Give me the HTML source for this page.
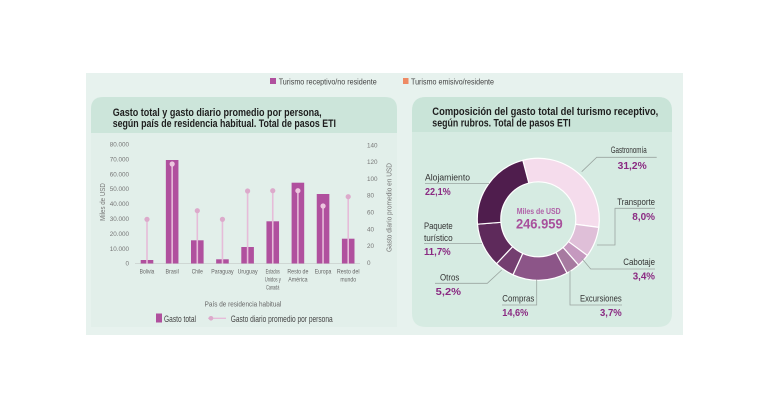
<!DOCTYPE html>
<html><head><meta charset="utf-8"><style>
html,body{margin:0;padding:0;background:#fff;}
svg{display:block;}
text{font-family:"Liberation Sans Narrow","Liberation Sans",sans-serif;}
</style></head><body>
<svg width="768" height="409" viewBox="0 0 768 409" xmlns="http://www.w3.org/2000/svg">
<rect x="0" y="0" width="768" height="409" fill="#fff"/>
<rect x="86" y="73" width="597" height="262" fill="#e7f2ee"/>
<!-- legend top -->
<rect x="270" y="78" width="6" height="6" fill="#b0509e"/>
<text x="278.7" y="84.5" font-size="8.5" fill="#444" textLength="98" lengthAdjust="spacingAndGlyphs">Turismo receptivo/no residente</text>
<rect x="403" y="78" width="5.5" height="6" fill="#ee8a64"/>
<text x="411" y="84.5" font-size="8.5" fill="#444" textLength="83" lengthAdjust="spacingAndGlyphs">Turismo emisivo/residente</text>

<!-- left card -->
<path d="M91,109 Q91,97 103,97 L385,97 Q397,97 397,109 L397,327 L91,327 Z" fill="#e2efea"/>
<path d="M91,109 Q91,97 103,97 L385,97 Q397,97 397,109 L397,133 L91,133 Z" fill="#cce5da"/>
<text x="112.7" y="115.8" font-size="11" font-weight="bold" fill="#1e1e1e" textLength="209" lengthAdjust="spacingAndGlyphs">Gasto total y gasto diario promedio por persona,</text>
<text x="112.7" y="126.8" font-size="11" font-weight="bold" fill="#1e1e1e" textLength="223.3" lengthAdjust="spacingAndGlyphs">según país de residencia habitual. Total de pasos ETI</text>

<!-- right card -->
<path d="M412,111 Q412,97 426,97 L658,97 Q672,97 672,111 L672,313 Q672,327 658,327 L426,327 Q412,327 412,313 Z" fill="#d6ebe2"/>
<path d="M412,111 Q412,97 426,97 L658,97 Q672,97 672,111 L672,132 L412,132 Z" fill="#c9e4d8"/>
<text x="432.3" y="115" font-size="11" font-weight="bold" fill="#1e1e1e" textLength="226" lengthAdjust="spacingAndGlyphs">Composición del gasto total del turismo receptivo,</text>
<text x="432.3" y="126.3" font-size="11" font-weight="bold" fill="#1e1e1e" textLength="138.4" lengthAdjust="spacingAndGlyphs">según rubros. Total de pasos ETI</text>

<!-- bar chart axes -->
<g font-size="6.3" fill="#777" text-anchor="end">
<text x="129" y="146.5">80.000</text>
<text x="129" y="161.4">70.000</text>
<text x="129" y="176.3">60.000</text>
<text x="129" y="191.2">50.000</text>
<text x="129" y="206.1">40.000</text>
<text x="129" y="221">30.000</text>
<text x="129" y="235.9">20.000</text>
<text x="129" y="250.8">10.000</text>
<text x="129" y="265.7">0</text>
</g>
<g font-size="6.3" fill="#777">
<text x="367" y="147.3">140</text>
<text x="367" y="164.1">120</text>
<text x="367" y="180.9">100</text>
<text x="367" y="197.7">80</text>
<text x="367" y="214.5">60</text>
<text x="367" y="231.3">40</text>
<text x="367" y="248.1">20</text>
<text x="367" y="264.9">0</text>
</g>
<text transform="translate(104.8,202) rotate(-90)" font-size="7" fill="#777" text-anchor="middle" textLength="37.7" lengthAdjust="spacingAndGlyphs">Miles de USD</text>
<text transform="translate(391.5,207.5) rotate(-90)" font-size="7" fill="#777" text-anchor="middle" textLength="89" lengthAdjust="spacingAndGlyphs">Gasto diario promedio en USD</text>
<line x1="135" y1="263.5" x2="360" y2="263.5" stroke="#c8cfcc" stroke-width="0.7"/>

<!-- bars -->
<g fill="#b0509e">
<rect x="140.7" y="260" width="12.6" height="3.5"/>
<rect x="165.85" y="160" width="12.6" height="103.5"/>
<rect x="191" y="240.3" width="12.6" height="23.2"/>
<rect x="216.15" y="259.3" width="12.6" height="4.2"/>
<rect x="241.3" y="247" width="12.6" height="16.5"/>
<rect x="266.45" y="221.3" width="12.6" height="42.2"/>
<rect x="291.6" y="182.7" width="12.6" height="80.8"/>
<rect x="316.75" y="194" width="12.6" height="69.5"/>
<rect x="341.9" y="238.7" width="12.6" height="24.8"/>
</g>
<!-- lollipops -->
<g stroke="#e6bcd9" stroke-width="1.6">
<line x1="147" y1="263.5" x2="147" y2="219.3"/>
<line x1="172.15" y1="263.5" x2="172.15" y2="164"/>
<line x1="197.3" y1="263.5" x2="197.3" y2="210.7"/>
<line x1="222.45" y1="263.5" x2="222.45" y2="219.3"/>
<line x1="247.6" y1="263.5" x2="247.6" y2="191"/>
<line x1="272.75" y1="263.5" x2="272.75" y2="190.7"/>
<line x1="297.9" y1="263.5" x2="297.9" y2="190.7"/>
<line x1="323.05" y1="263.5" x2="323.05" y2="206"/>
<line x1="348.2" y1="263.5" x2="348.2" y2="196.7"/>
</g>
<g fill="#dcaacb">
<circle cx="147" cy="219.3" r="2.6"/>
<circle cx="172.15" cy="164" r="2.6" fill="#edc6df"/>
<circle cx="197.3" cy="210.7" r="2.6"/>
<circle cx="222.45" cy="219.3" r="2.6"/>
<circle cx="247.6" cy="191" r="2.6"/>
<circle cx="272.75" cy="190.7" r="2.6"/>
<circle cx="297.9" cy="190.7" r="2.6" fill="#edc6df"/>
<circle cx="323.05" cy="206" r="2.6" fill="#edc6df"/>
<circle cx="348.2" cy="196.7" r="2.6"/>
</g>
<!-- category labels -->
<g font-size="6.5" fill="#666" text-anchor="middle">
<text x="147" y="273.3" textLength="14.7" lengthAdjust="spacingAndGlyphs">Bolivia</text>
<text x="172.15" y="273.3" textLength="13.3" lengthAdjust="spacingAndGlyphs">Brasil</text>
<text x="197.3" y="273.3" textLength="11" lengthAdjust="spacingAndGlyphs">Chile</text>
<text x="222.45" y="273.3" textLength="22.3" lengthAdjust="spacingAndGlyphs">Paraguay</text>
<text x="247.6" y="273.3" textLength="20" lengthAdjust="spacingAndGlyphs">Uruguay</text>
<text x="272.75" y="273.3" textLength="14.3" lengthAdjust="spacingAndGlyphs">Estados</text>
<text x="272.75" y="281.5" textLength="16" lengthAdjust="spacingAndGlyphs">Unidos y</text>
<text x="272.75" y="289.5" textLength="13.3" lengthAdjust="spacingAndGlyphs">Canadá</text>
<text x="297.9" y="273.3" textLength="21" lengthAdjust="spacingAndGlyphs">Resto de</text>
<text x="297.9" y="281.5" textLength="19.3" lengthAdjust="spacingAndGlyphs">América</text>
<text x="323.05" y="273.3" textLength="16.7" lengthAdjust="spacingAndGlyphs">Europa</text>
<text x="348.2" y="273.3" textLength="22.7" lengthAdjust="spacingAndGlyphs">Resto del</text>
<text x="348.2" y="281.5" textLength="15.7" lengthAdjust="spacingAndGlyphs">mundo</text>
</g>
<text x="243" y="306.5" font-size="7.5" fill="#666" text-anchor="middle" textLength="76.7" lengthAdjust="spacingAndGlyphs">País de residencia habitual</text>
<!-- bottom legend -->
<rect x="156" y="313.5" width="6" height="9" fill="#b0509e"/>
<text x="164" y="322" font-size="9.5" fill="#444" textLength="32" lengthAdjust="spacingAndGlyphs">Gasto total</text>
<line x1="208" y1="318.3" x2="226" y2="318.3" stroke="#e6bcd9" stroke-width="1.4"/>
<circle cx="211" cy="318.3" r="2.3" fill="#dcaacb"/>
<text x="230.7" y="322" font-size="9.5" fill="#444" textLength="102" lengthAdjust="spacingAndGlyphs">Gasto diario promedio por persona</text>

<!-- donut -->
<g stroke="#ffffff" stroke-width="1.2" stroke-linejoin="round">
<path fill="#f5dcec" d="M522.82,160.29 A61,61 0 0 1 598.76,227.39 L575.47,224.27 A37.5,37.5 0 0 0 528.78,183.03 Z"/>
<path fill="#dfbfd8" d="M598.76,227.39 A61,61 0 0 1 587.38,255.52 L568.47,241.57 A37.5,37.5 0 0 0 575.47,224.27 Z"/>
<path fill="#c599bf" d="M587.38,255.52 A61,61 0 0 1 578.59,265.10 L563.07,247.46 A37.5,37.5 0 0 0 568.47,241.57 Z"/>
<path fill="#a77aa0" d="M578.59,265.10 A61,61 0 0 1 566.96,273.15 L555.92,252.41 A37.5,37.5 0 0 0 563.07,247.46 Z"/>
<path fill="#8c5588" d="M566.96,273.15 A61,61 0 0 1 512.97,274.79 L522.73,253.41 A37.5,37.5 0 0 0 555.92,252.41 Z"/>
<path fill="#743e70" d="M512.97,274.79 A61,61 0 0 1 496.50,263.73 L512.60,246.61 A37.5,37.5 0 0 0 522.73,253.41 Z"/>
<path fill="#5e2a5b" d="M496.50,263.73 A61,61 0 0 1 477.50,224.21 L500.92,222.32 A37.5,37.5 0 0 0 512.60,246.61 Z"/>
<path fill="#4f1d4d" d="M477.50,224.21 A61,61 0 0 1 522.82,160.29 L528.78,183.03 A37.5,37.5 0 0 0 500.92,222.32 Z"/>
</g>
<text x="538.7" y="214" font-size="8" font-weight="bold" fill="#b061a8" text-anchor="middle" textLength="44" lengthAdjust="spacingAndGlyphs">Miles de USD</text>
<text x="539.3" y="228.3" font-size="14" font-weight="bold" fill="#a8509c" text-anchor="middle" textLength="46.7" lengthAdjust="spacingAndGlyphs">246.959</text>

<!-- leader lines -->
<g stroke="#9aa5a0" stroke-width="0.8" fill="none">
<polyline points="581.7,171.7 596.7,157.3 656.7,157.3"/>
<line x1="425" y1="183.5" x2="489" y2="183.5"/>
<polyline points="597,245 615,245 615,208.3 655,208.3"/>
<polyline points="581.7,258.3 590.7,269 655,269"/>
<polyline points="570,269.5 570,305 622,305"/>
<polyline points="536.7,279.5 536.7,305 502,305"/>
<polyline points="501.7,270 487.3,283.3 435,283.3"/>
<line x1="424" y1="243.5" x2="482" y2="243.5"/>
</g>
<!-- donut labels -->
<g font-size="9.5" fill="#333">
<text x="646.7" y="153" text-anchor="end" textLength="36" lengthAdjust="spacingAndGlyphs">Gastronomía</text>
<text x="425" y="180.5" textLength="45" lengthAdjust="spacingAndGlyphs">Alojamiento</text>
<text x="655" y="205" text-anchor="end" textLength="37.7" lengthAdjust="spacingAndGlyphs">Transporte</text>
<text x="655" y="265" text-anchor="end" textLength="31.7" lengthAdjust="spacingAndGlyphs">Cabotaje</text>
<text x="621.7" y="301.7" text-anchor="end" textLength="41.7" lengthAdjust="spacingAndGlyphs">Excursiones</text>
<text x="502.3" y="301.3" textLength="32" lengthAdjust="spacingAndGlyphs">Compras</text>
<text x="440" y="280.7" textLength="19.3" lengthAdjust="spacingAndGlyphs">Otros</text>
<text x="424" y="229" textLength="28.7" lengthAdjust="spacingAndGlyphs">Paquete</text>
<text x="424" y="241" textLength="28.7" lengthAdjust="spacingAndGlyphs">turístico</text>
</g>
<g font-size="10" font-weight="bold" fill="#8a2a82">
<text x="646.7" y="169" text-anchor="end" textLength="29" lengthAdjust="spacingAndGlyphs">31,2%</text>
<text x="425" y="195" textLength="25.7" lengthAdjust="spacingAndGlyphs">22,1%</text>
<text x="655" y="220" text-anchor="end" textLength="22.7" lengthAdjust="spacingAndGlyphs">8,0%</text>
<text x="655" y="279.3" text-anchor="end" textLength="22.3" lengthAdjust="spacingAndGlyphs">3,4%</text>
<text x="621.7" y="316" text-anchor="end" textLength="21.7" lengthAdjust="spacingAndGlyphs">3,7%</text>
<text x="502.3" y="316" textLength="26" lengthAdjust="spacingAndGlyphs">14,6%</text>
<text x="435.7" y="295" textLength="25.3" lengthAdjust="spacingAndGlyphs">5,2%</text>
<text x="424" y="255" textLength="26.7" lengthAdjust="spacingAndGlyphs">11,7%</text>
</g>
</svg>
</body></html>
